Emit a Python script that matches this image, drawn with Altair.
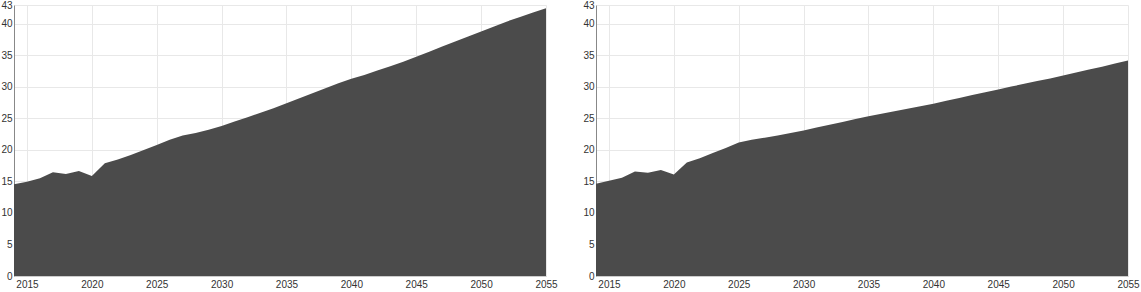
import altair as alt
import pandas as pd

years = list(range(2014, 2056))

left_values = [
    14.55, 14.97, 15.5, 16.46, 16.2, 16.67, 15.87, 17.9, 18.5, 19.2,
    20.0, 20.8, 21.6, 22.3, 22.7, 23.2, 23.8, 24.5, 25.2, 25.9,
    26.6, 27.4, 28.2, 29.0, 29.8, 30.6, 31.3, 31.9, 32.6, 33.3,
    34.0, 34.8, 35.6, 36.4, 37.2, 38.0, 38.8, 39.6, 40.4, 41.1,
    41.8, 42.5,
]

right_values = [
    14.65, 15.1, 15.6, 16.6, 16.4, 16.8, 16.1, 18.0, 18.7, 19.5,
    20.3, 21.2, 21.6, 21.95, 22.3, 22.7, 23.1, 23.55, 24.0, 24.45,
    24.9, 25.35, 25.75, 26.15, 26.55, 26.95, 27.35, 27.8, 28.25, 28.7,
    29.15, 29.6, 30.05, 30.5, 30.95, 31.35, 31.8, 32.3, 32.75, 33.2,
    33.7, 34.2,
]

x_ticks = [2015, 2020, 2025, 2030, 2035, 2040, 2045, 2050, 2055]
y_ticks = [0, 5, 10, 15, 20, 25, 30, 35, 40, 43]

FONT = "Liberation Sans"
AREA = "#4b4b4b"


def panel(values):
    df = pd.DataFrame({"year": years, "value": values})
    return (
        alt.Chart(df)
        .mark_area(color=AREA, opacity=1, line=False)
        .encode(
            x=alt.X(
                "year:Q",
                scale=alt.Scale(domain=[2014, 2055], nice=False, zero=False),
                axis=alt.Axis(
                    values=x_ticks,
                    format="d",
                    title=None,
                    ticks=False,
                    labelPadding=3,
                    domain=True,
                    domainColor="#cccccc",
                    gridColor="#e8e8e8",
                    labelFont=FONT,
                    labelFontSize=10,
                    labelColor="#333333",
                    labelFlush=False,
                ),
            ),
            y=alt.Y(
                "value:Q",
                scale=alt.Scale(domain=[0, 43], nice=False),
                axis=alt.Axis(
                    values=y_ticks,
                    title=None,
                    ticks=False,
                    labelPadding=2,
                    domainColor="#888888",
                    gridColor="#e8e8e8",
                    labelFont=FONT,
                    labelFontSize=10,
                    labelColor="#333333",
                ),
            ),
        )
        .properties(width=532, height=271)
    )


chart = (
    alt.hconcat(panel(left_values), panel(right_values), spacing=50, bounds="flush")
    .properties(padding={"left": 0, "top": 0, "right": 0, "bottom": 0})
    .configure_view(stroke=None)
)

chart.save("out.html", embed_options={"renderer": "svg", "actions": False})
